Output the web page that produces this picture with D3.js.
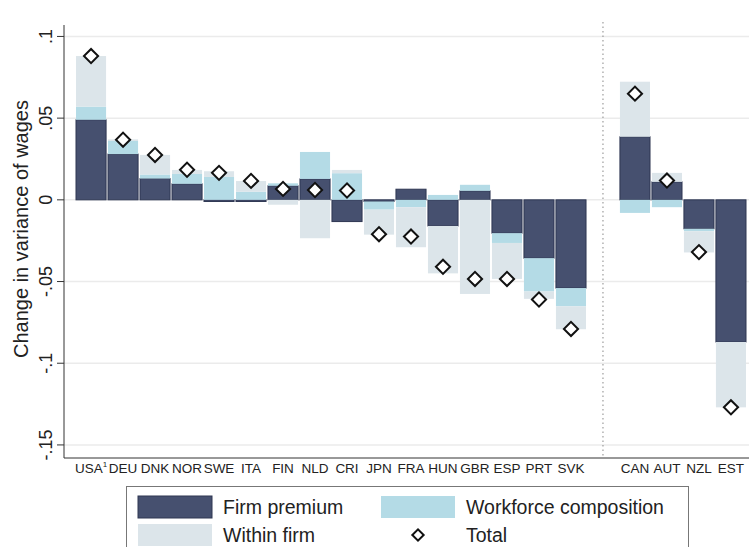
<!DOCTYPE html>
<html>
<head>
<meta charset="utf-8">
<script src="https://cdn.jsdelivr.net/npm/d3@7"></script>
<style>
  body { margin: 0; background: #fff; }
  svg { display: block; font-family: 'Liberation Sans', Arial, sans-serif; }
</style>
</head>
<body>
<svg id="chart" width="749" height="547"></svg>
<script>
const countries = ['USA', 'DEU', 'DNK', 'NOR', 'SWE', 'ITA', 'FIN', 'NLD', 'CRI', 'JPN', 'FRA', 'HUN', 'GBR', 'ESP', 'PRT', 'SVK', 'CAN', 'AUT', 'NZL', 'EST']
const gapAfter = 'SVK'
const notes = { USA: '1' }

const firmPremium = [0.049, 0.028, 0.013, 0.0098, -0.001, -0.001, 0.0086, 0.0128, -0.0133, -0.001, 0.0065, -0.016, 0.0055, -0.0204, -0.0357, -0.054, 0.0386, 0.011, -0.0177, -0.087]
const workforce = [0.008, 0.008, 0.0025, 0.006, 0.014, 0.005, 0.0015, 0.0165, 0.0163, -0.005, -0.0045, 0.003, 0.0037, -0.006, -0.0204, -0.0112, -0.008, -0.0045, -0.0015, 0]
const withinFirm = [0.031, 0.001, 0.012, 0.0025, 0.0035, 0.0065, -0.003, -0.0235, 0.002, -0.0153, -0.0245, -0.029, -0.0576, -0.022, -0.0045, -0.014, 0.0337, 0.0055, -0.013, -0.040]
const total = [0.088, 0.0368, 0.0275, 0.0184, 0.0165, 0.0116, 0.0067, 0.006, 0.0057, -0.021, -0.0225, -0.041, -0.0484, -0.0484, -0.061, -0.079, 0.065, 0.0118, -0.032, -0.127]

const yTicks = [0.1, 0.05, 0, -0.05, -0.1, -0.15]
const yTickLabels = ['.1', '.05', '0', '-.05', '-.1', '-.15']

const seriesNames = ['Firm premium', 'Workforce composition', 'Within firm']
const colors = ['#46506f', '#b4dbe6', '#dce5ea']

const svg = d3.select('#chart')
const margin = { top: 25, left: 64, bottom: 458 }

// slots: countries with one empty slot where the dotted divider goes
const slots = []
countries.forEach(c => {
  slots.push(c)
  if (c === gapAfter) slots.push('__gap')
})

const x = d3.scaleBand()
  .domain(slots)
  .range([76, 746])
  .paddingInner(0.06)
  .paddingOuter(0)

const y = d3.scaleLinear()
  .domain([-0.158, 0.107])
  .range([margin.bottom, margin.top])

const rows = countries.map((c, i) => ({
  country: c,
  firm: firmPremium[i],
  work: workforce[i],
  within: withinFirm[i],
  total: total[i]
}))

// grid
svg.append('g')
  .selectAll('line')
  .data(yTicks)
  .enter()
  .append('line')
  .attr('x1', margin.left)
  .attr('x2', 749)
  .attr('y1', d => y(d))
  .attr('y2', d => y(d))
  .attr('stroke', '#ebebeb')
  .attr('stroke-width', 1.5)

// divider
const gapX = x('__gap') + x.bandwidth() / 2
svg.append('line')
  .attr('x1', gapX)
  .attr('x2', gapX)
  .attr('y1', 22)
  .attr('y2', margin.bottom)
  .attr('stroke', '#888')
  .attr('stroke-width', 1)
  .attr('stroke-dasharray', '1.5,3')

// stacked bars
const stack = d3.stack()
  .keys(['firm', 'work', 'within'])
  .offset(d3.stackOffsetDiverging)

const layers = stack(rows)

layers.forEach((layer, li) => {
  svg.append('g')
    .selectAll('rect')
    .data(layer)
    .enter()
    .append('rect')
    .attr('x', d => x(d.data.country))
    .attr('width', x.bandwidth())
    .attr('y', d => y(Math.max(d[0], d[1])))
    .attr('height', d => Math.abs(y(d[0]) - y(d[1])))
    .attr('fill', colors[li])
    .attr('stroke', li === 0 ? '#2e3652' : 'none')
    .attr('stroke-width', 1)
})

// totals
const diamond = d3.symbol().type(d3.symbolSquare).size(100)
svg.append('g')
  .selectAll('path')
  .data(rows)
  .enter()
  .append('path')
  .attr('d', diamond)
  .attr('transform', d => `translate(${x(d.country) + x.bandwidth() / 2},${y(d.total)}) rotate(45)`)
  .attr('fill', '#fff')
  .attr('stroke', '#111')
  .attr('stroke-width', 2)

// axes
svg.append('line')
  .attr('x1', margin.left)
  .attr('x2', margin.left)
  .attr('y1', margin.top)
  .attr('y2', margin.bottom)
  .attr('stroke', '#333')
svg.append('line')
  .attr('x1', margin.left)
  .attr('x2', 749)
  .attr('y1', margin.bottom)
  .attr('y2', margin.bottom)
  .attr('stroke', '#333')

const yAxis = svg.append('g')
yAxis.selectAll('line')
  .data(yTicks)
  .enter()
  .append('line')
  .attr('x1', margin.left - 7)
  .attr('x2', margin.left)
  .attr('y1', d => y(d))
  .attr('y2', d => y(d))
  .attr('stroke', '#333')

yAxis.selectAll('text')
  .data(yTicks)
  .enter()
  .append('text')
  .attr('transform', d => `translate(52,${y(d)}) rotate(-90)`)
  .attr('text-anchor', 'middle')
  .attr('font-size', 18)
  .attr('fill', '#222')
  .text((d, i) => yTickLabels[i])

svg.append('text')
  .attr('transform', 'translate(28,229) rotate(-90)')
  .attr('text-anchor', 'middle')
  .attr('font-size', 20)
  .attr('fill', '#222')
  .text('Change in variance of wages')

// country labels
const xLabels = svg.append('g')
  .selectAll('text')
  .data(countries)
  .enter()
  .append('text')
  .attr('x', d => x(d) + x.bandwidth() / 2)
  .attr('y', 473)
  .attr('text-anchor', 'middle')
  .attr('font-size', 13.5)
  .attr('fill', '#222')
  .text(d => d)

xLabels.filter(d => notes[d])
  .append('tspan')
  .attr('dy', -6)
  .attr('font-size', 8)
  .text(d => notes[d])

// legend
const legend = svg.append('g')
legend.append('rect')
  .attr('x', 126.5)
  .attr('y', 486.5)
  .attr('width', 562)
  .attr('height', 80)
  .attr('fill', '#fff')
  .attr('stroke', '#777')

const legendItems = [
  { kind: 'rect', color: colors[0], label: seriesNames[0], sx: 138, tx: 223, row: 0 },
  { kind: 'rect', color: colors[1], label: seriesNames[1], sx: 381, tx: 466, row: 0 },
  { kind: 'rect', color: colors[2], label: seriesNames[2], sx: 138, tx: 223, row: 1 },
  { kind: 'diamond', label: 'Total', sx: 381, tx: 466, row: 1 }
]

legendItems.forEach(item => {
  const top = 496 + item.row * 28
  if (item.kind === 'rect') {
    legend.append('rect')
      .attr('x', item.sx)
      .attr('y', top)
      .attr('width', 74)
      .attr('height', 22)
      .attr('fill', item.color)
      .attr('stroke', item === legendItems[0] ? '#2e3652' : 'none')
  }
  else {
    legend.append('path')
      .attr('d', d3.symbol().type(d3.symbolSquare).size(64))
      .attr('transform', `translate(${item.sx + 37},${top + 11}) rotate(45)`)
      .attr('fill', '#fff')
      .attr('stroke', '#111')
      .attr('stroke-width', 2)
  }
  legend.append('text')
    .attr('x', item.tx)
    .attr('y', top + 18)
    .attr('font-size', 19.5)
    .attr('fill', '#222')
    .text(item.label)
})
</script>
</body>
</html>
